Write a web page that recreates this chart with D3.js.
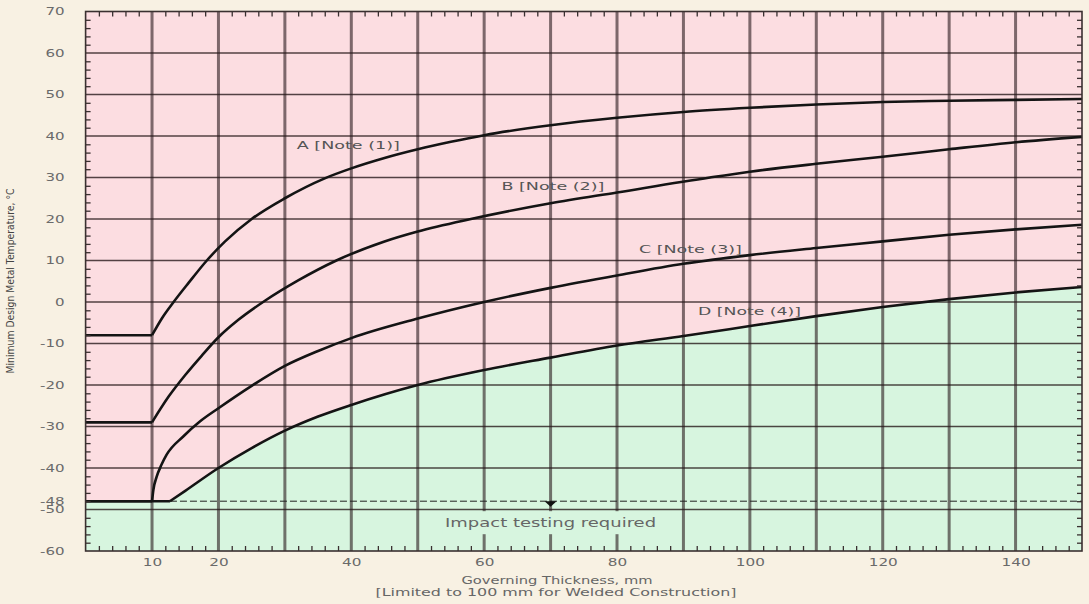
<!DOCTYPE html>
<html>
<head>
<meta charset="utf-8">
<script src="https://cdn.jsdelivr.net/npm/d3@7"></script>
<style>
  html, body { margin: 0; padding: 0; background: #f8f1e3; }
  svg { display: block; }
  text { font-family: "DejaVu Sans", Verdana, sans-serif; }
</style>
</head>
<body>
<svg id="chart" width="1089" height="604"></svg>
<script>
// Governing thickness (mm) and minimum design metal temperature (°C) for each curve
const thickA = [10, 11.5, 13.25, 15.5, 18.25, 21, 25, 30, 36, 40, 45, 50, 55, 60, 70, 80, 90, 100, 110, 120, 130, 140, 150];
const tempA  = [-8, -3.9, 0, 4.6, 10, 14.6, 20, 25, 29.8, 32.2, 34.7, 36.8, 38.6, 40.2, 42.6, 44.4, 45.8, 46.8, 47.6, 48.2, 48.5, 48.7, 48.9];

const thickB = [10, 12.5, 15, 17.5, 20, 23, 27, 32, 37.75, 45, 50, 58, 70, 80, 94, 100, 110, 120, 130, 140, 150];
const tempB  = [-29, -22.8, -17.6, -12.9, -8.5, -4.3, 0.3, 5.2, 10, 14.6, 17, 20, 23.8, 26.4, 30, 31.4, 33.3, 35, 36.8, 38.5, 39.8];

const thickC = [10, 10.2, 10.7, 11.4, 12.2, 14.7, 17.2, 20, 25, 30, 35, 40, 50, 60, 70, 80, 90, 100, 110, 120, 130, 140, 150];
const tempC  = [-48, -45.3, -42.1, -39.3, -36.8, -32.4, -28.8, -25.6, -20.2, -15.4, -11.8, -8.7, -4, 0, 3.4, 6.4, 9.2, 11.3, 13, 14.6, 16.2, 17.5, 18.6];

const thickD = [12.7, 15, 20, 25, 30, 35, 40, 50, 60, 70, 80, 90, 100, 110, 120, 130, 140, 150];
const tempD  = [-48, -45.5, -40, -35.2, -31, -27.6, -24.8, -20, -16.4, -13.4, -10.5, -8.2, -5.8, -3.4, -1.2, 0.7, 2.3, 3.6];

// Each curve is flat below its starting thickness
const flatStart = [0, 0, 0, 0];
const flatEnd   = [10, 10, 10, 12.7];
const flatTemp  = [-8, -29, -48, -48];

const curveNames = ["A [Note (1)]", "B [Note (2)]", "C [Note (3)]", "D [Note (4)]"];
const labelThick = [31.8, 62.6, 83.3, 92.2];
const labelTemp  = [37.9, 27.9, 12.8, -2.2];

const xLabelTicks = [10, 20, 40, 60, 80, 100, 120, 140];
const xGridTicks  = d3.range(10, 150, 10);
const yLabelTicks = [70, 60, 50, 40, 30, 20, 10, 0, -10, -20, -30, -40, -48, -50, -60];
const yGridTicks  = [60, 50, 40, 30, 20, 10, 0, -10, -20, -30, -40, -50];
const xMinorTicks = d3.range(2, 150, 2).filter(v => v % 10 !== 0);
const yMinorTicks = d3.range(-58, 70, 2).filter(v => v % 10 !== 0);

const impactTemp = -48;
const impactLimitThick = 12.7;
const arrowThick = 70;
const impactText = "Impact testing required";
const impactTextThick = 70;
const impactTextTemp = -53.3;

const svg = d3.select("#chart");
const x = d3.scaleLinear().domain([0, 150]).range([85.6, 1082]);
const y = d3.scaleLinear().domain([-60, 70]).range([551, 11.5]);
const [x0, x1] = x.range();
const [yb, yt] = y.range();

// Stretch text horizontally to its intended width
function widen(sel, factor) {
  sel.each(function () {
    const w = this.getComputedTextLength();
    d3.select(this).attr("textLength", w * factor).attr("lengthAdjust", "spacingAndGlyphs");
  });
}

// Plot background: pink above curve D, green below it
svg.append("rect").attr("x", x0).attr("y", yt).attr("width", x1 - x0).attr("height", yb - yt)
  .attr("fill", "#fcdde1");

const greenX = [flatStart[3]].concat(thickD);
const greenY = [flatTemp[3]].concat(tempD);
const greenPts = greenX.map((t, i) => [t, greenY[i]]);
svg.append("path")
  .datum(greenPts)
  .attr("fill", "#d7f5df")
  .attr("d", d3.area().x(d => x(d[0])).y0(y(-60)).y1(d => y(d[1])).curve(d3.curveMonotoneX));

// Horizontal grid
svg.append("g").selectAll("line").data(yGridTicks).join("line")
  .attr("x1", x0).attr("x2", x1).attr("y1", d => y(d)).attr("y2", d => y(d))
  .attr("stroke", "rgba(35,20,22,0.78)").attr("stroke-width", 1.3);

// Vertical grid (heavier)
svg.append("g").selectAll("line").data(xGridTicks).join("line")
  .attr("x1", d => x(d)).attr("x2", d => x(d)).attr("y1", yt).attr("y2", yb)
  .attr("stroke", "rgba(40,25,28,0.6)").attr("stroke-width", 3);

// Dashed -48 °C limit
svg.append("line")
  .attr("x1", x(impactLimitThick)).attr("x2", x1)
  .attr("y1", y(impactTemp)).attr("y2", y(impactTemp))
  .attr("stroke", "#222").attr("stroke-width", 1).attr("stroke-dasharray", "7,3");

// Arrow head pointing into the impact testing zone
const ax = x(arrowThick), ay = y(impactTemp);
svg.append("path")
  .attr("d", `M${ax - 6},${ay} L${ax + 6},${ay} L${ax},${ay + 5.5} Z`)
  .attr("fill", "#111");

// "Impact testing required" on a background that masks the grid
const impG = svg.append("g");
impG.append("rect").attr("fill", "#d7f5df")
  .attr("x", x(impactTextThick) - 108).attr("y", y(impactTextTemp) - 12)
  .attr("width", 216).attr("height", 23);
impG.append("text")
  .attr("x", x(impactTextThick)).attr("y", y(impactTextTemp))
  .attr("text-anchor", "middle").attr("dy", "0.35em")
  .attr("font-size", 11.5).attr("fill", "#666")
  .attr("textLength", 211).attr("lengthAdjust", "spacingAndGlyphs")
  .text(impactText);

// Curves
const line = d3.line().x(d => x(d[0])).y(d => y(d[1])).curve(d3.curveMonotoneX);
const curveThick = [thickA, thickB, thickC, thickD];
const curveTemp = [tempA, tempB, tempC, tempD];
const cg = svg.append("g").attr("fill", "none").attr("stroke", "#141414").attr("stroke-width", 2.6)
  .attr("stroke-linejoin", "round");
curveThick.forEach((ts, i) => {
  cg.append("path").datum(ts.map((t, j) => [t, curveTemp[i][j]])).attr("d", line);
  cg.append("line")
    .attr("x1", x(flatStart[i])).attr("x2", x(flatEnd[i]))
    .attr("y1", y(flatTemp[i])).attr("y2", y(flatTemp[i]));
});

// Curve labels
svg.append("g").selectAll("text").data(curveNames).join("text")
  .attr("x", (d, i) => x(labelThick[i])).attr("y", (d, i) => y(labelTemp[i]))
  .attr("dy", "0.35em")
  .attr("font-size", 11).attr("fill", "#555")
  .attr("textLength", 103).attr("lengthAdjust", "spacingAndGlyphs")
  .text(d => d);

// Minor ticks on all four sides
function minor(axis, tx, ty, vals) {
  const g = svg.append("g").attr("transform", `translate(${tx},${ty})`)
    .call(axis.tickValues(vals).tickSize(-5).tickFormat(""));
  g.select(".domain").remove();
  g.selectAll("line").attr("stroke", "#3a3030").attr("stroke-width", 1.3);
}
minor(d3.axisBottom(x), 0, yb, xMinorTicks);
minor(d3.axisTop(x), 0, yt, xMinorTicks);
minor(d3.axisLeft(y), x0, 0, yMinorTicks);
minor(d3.axisRight(y), x1, 0, yMinorTicks);

// Frame
svg.append("rect").attr("x", x0).attr("y", yt).attr("width", x1 - x0).attr("height", yb - yt)
  .attr("fill", "none").attr("stroke", "#3a3030").attr("stroke-width", 1.6);

// Axis labels (plain hyphen for negatives)
const fmt = d => String(d);
const xAxis = svg.append("g").attr("transform", `translate(0,${yb})`)
  .call(d3.axisBottom(x).tickValues(xLabelTicks).tickFormat(fmt).tickSize(0).tickPadding(8));
xAxis.select(".domain").remove();
xAxis.selectAll("text").attr("font-size", 10.5).attr("fill", "#6a6a6a")
  .style("font-family", "'DejaVu Sans', Verdana, sans-serif");
widen(xAxis.selectAll("text"), 1.45);

const yAxis = svg.append("g").attr("transform", `translate(${x0},0)`)
  .call(d3.axisLeft(y).tickValues(yLabelTicks).tickFormat(fmt).tickSize(0).tickPadding(21));
yAxis.select(".domain").remove();
yAxis.selectAll("text").attr("font-size", 10).attr("fill", "#6a6a6a")
  .style("font-family", "'DejaVu Sans', Verdana, sans-serif");
widen(yAxis.selectAll("text"), 1.5);

// Axis titles
svg.append("text").attr("x", 557).attr("y", 583.5)
  .attr("text-anchor", "middle").attr("font-size", 10.5).attr("fill", "#666")
  .attr("textLength", 191).attr("lengthAdjust", "spacingAndGlyphs")
  .text("Governing Thickness, mm");
svg.append("text").attr("x", 556).attr("y", 595.5)
  .attr("text-anchor", "middle").attr("font-size", 10.5).attr("fill", "#666")
  .attr("textLength", 361).attr("lengthAdjust", "spacingAndGlyphs")
  .text("[Limited to 100 mm for Welded Construction]");
svg.append("text")
  .attr("transform", "translate(14,281) rotate(-90)")
  .attr("text-anchor", "middle").attr("font-size", 11).attr("fill", "#444")
  .attr("textLength", 185).attr("lengthAdjust", "spacingAndGlyphs")
  .text("Minimum Design Metal Temperature, °C");
</script>
</body>
</html>
